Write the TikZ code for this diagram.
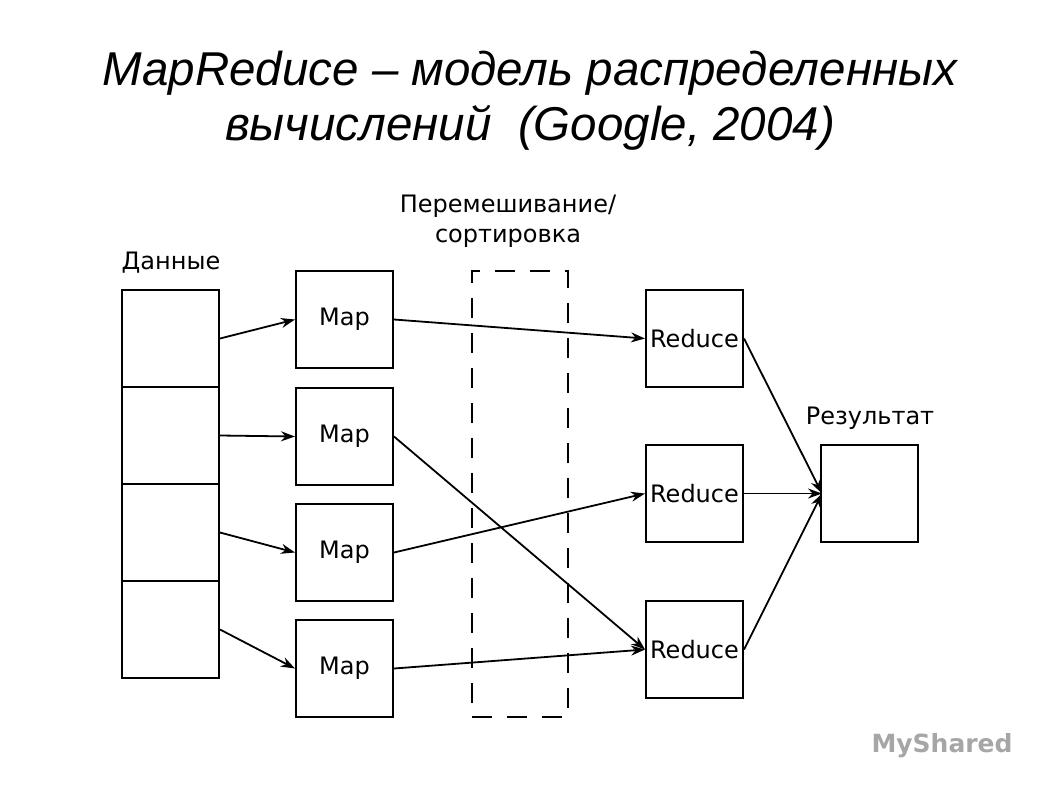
\documentclass[tikz,border=0pt]{standalone}
\usepackage{fontspec}
\setmainfont{DejaVu Sans}
\newfontfamily\titlefont{Liberation Sans}
\usetikzlibrary{arrows.meta}
\begin{document}
\begin{tikzpicture}[x=1pt,y=-1pt,
  box/.style={draw,line width=2pt,minimum width=97pt,minimum height=97pt,inner sep=0pt},
  lab/.style={font=\fontsize{24}{30}\selectfont},
  arr/.style={line width=1.8pt,-{Stealth[length=14pt,width=10pt]}}]
\useasboundingbox (0,0) rectangle (1058,793);
\node[font=\titlefont\itshape\fontsize{47.5}{55}\selectfont,align=center] (title) at (530,101) {MapReduce – модель распределенных\\вычислений \ (Google, 2004)};
\node[box,anchor=north west] (d1) at (121,289) {};
\node[box,anchor=north west] (d2) at (121,386) {};
\node[box,anchor=north west] (d3) at (121,483) {};
\node[box,anchor=north west] (d4) at (121,580) {};
\node[lab] (ldata) at (171,263) {Данные};
\foreach \i/\y in {1/270,2/387,3/503,4/619}
  \node[box,anchor=north west,lab] (m\i) at (295,\y) {Map};
\node[draw,line width=2pt,dash pattern=on 20pt off 15pt,minimum width=96pt,minimum height=446pt,anchor=north west] (shuf) at (471,270) {};
\node[lab,align=center] (lshuf) at (508,221) {Перемешивание/\\сортировка};
\foreach \i/\y in {1/289,2/444,3/600}
  \node[box,anchor=north west,lab] (r\i) at (645,\y) {Reduce};
\node[box,anchor=north west] (res) at (820,444) {};
\node[lab] (lres) at (870,418) {Результат};
\draw[arr] (d1.east) -- (m1.west);
\draw[arr] (d2.east) -- (m2.west);
\draw[arr] (d3.east) -- (m3.west);
\draw[arr] (d4.east) -- (m4.west);
\draw[arr] (m1.east) -- (r1.west);
\draw[arr] (m2.east) -- (r3.west);
\draw[arr] (m3.east) -- (r2.west);
\draw[arr] (m4.east) -- (r3.west);
\draw[arr] (r1.east) -- ([xshift=2pt]res.west);
\draw[arr] (r2.east) -- ([xshift=2pt]res.west);
\draw[arr] (r3.east) -- ([xshift=2pt]res.west);
\node[text=gray!70,font=\fontsize{25}{28}\selectfont\bfseries,anchor=west] (wm) at (868,746) {MyShared};
\end{tikzpicture}
\end{document}
